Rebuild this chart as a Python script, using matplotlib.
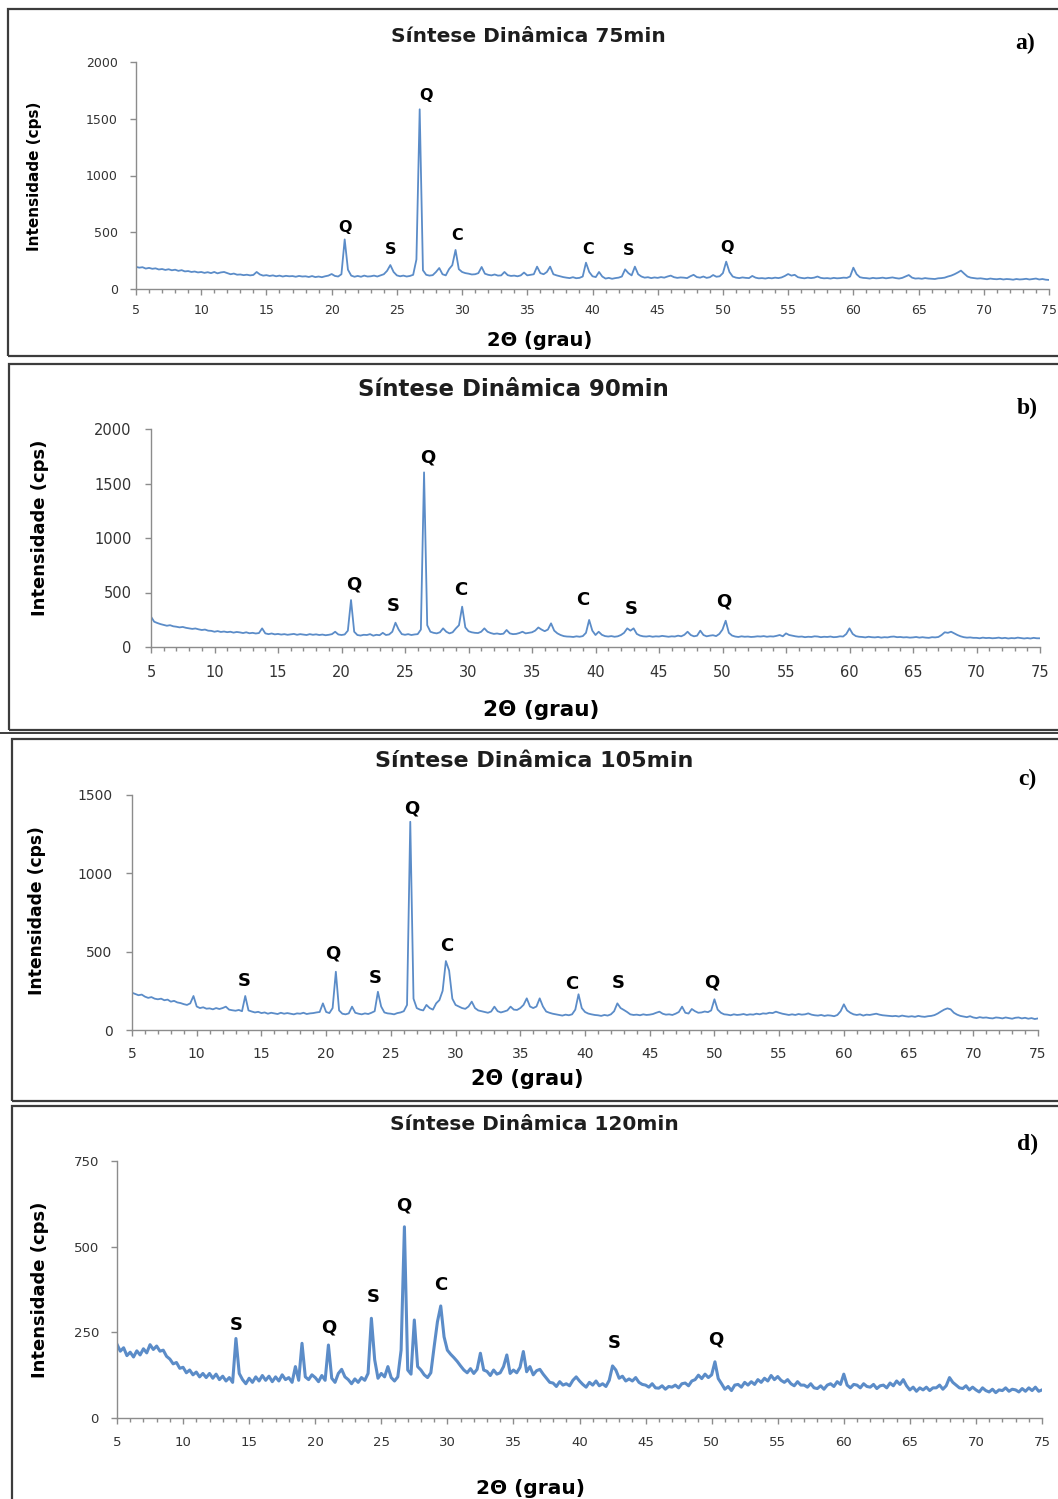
import numpy as np
import matplotlib
matplotlib.use('Agg')
import matplotlib.pyplot as plt
from matplotlib.patches import Rectangle
from matplotlib.lines import Line2D
from matplotlib.ticker import MultipleLocator

# ---------------- data ----------------
two_theta = np.linspace(5, 75, 281)   # 0.25 degree step

int_75 = [
    195, 188, 192, 180,   # 5
    186, 178, 182, 172,
    176, 168, 174, 165,
    170, 160, 166, 155,
    158, 150, 154, 146,
    150, 142, 148, 140,   # 10
    150, 138, 146, 150,
    140, 130, 136, 126,
    128, 122, 126, 120,
    124, 150, 128, 118,
    122, 115, 120, 112,   # 15
    118, 110, 116, 112,
    114, 108, 115, 110,
    112, 106, 114, 105,
    110, 104, 112, 118,
    132, 115, 110, 130,   # 20
    437, 170, 118, 108,
    115, 108, 118, 110,
    112, 118, 110, 120,
    130, 160, 211, 150,
    120, 112, 118, 110,   # 25
    115, 125, 260, 1583,
    165, 125, 118, 122,
    150, 185, 130, 120,
    175, 210, 344, 175,
    150, 140, 135, 128,   # 30
    130, 140, 194, 135,
    125, 120, 128, 118,
    120, 150, 122, 115,
    118, 112, 120, 145,
    120, 125, 130, 197,   # 35
    140, 130, 150, 197,
    130, 120, 112, 105,
    100, 96, 104, 95,
    98, 110, 232, 150,
    112, 105, 150, 110,   # 40
    92, 98, 90, 96,
    100, 110, 173, 140,
    120, 197, 130, 110,
    100, 104, 96, 102,
    98, 105, 100, 110,    # 45
    118, 104, 98, 102,
    100, 96, 112, 125,
    105, 100, 110, 98,
    104, 123, 108, 112,
    140, 241, 150, 110,   # 50
    100, 96, 102, 98,
    96, 115, 100, 94,
    96, 92, 98, 94,
    100, 96, 102, 115,
    132, 118, 125, 104,   # 55
    98, 94, 100, 96,
    100, 110, 98, 94,
    96, 92, 98, 94,
    96, 100, 98, 110,
    188, 130, 104, 98,    # 60
    96, 92, 98, 94,
    96, 100, 94, 98,
    102, 96, 92, 98,
    110, 123, 100, 92,
    94, 90, 96, 92,       # 65
    90, 88, 94, 96,
    100, 110, 118, 130,
    145, 162, 135, 110,
    100, 96, 92, 94,
    90, 86, 92, 88,       # 70
    86, 90, 84, 88,
    86, 82, 88, 84,
    86, 90, 84, 88,
    92, 84, 88, 82,
    80,                   # 75
]

int_90 = [
    278, 232, 220, 210,   # 5
    202, 195, 200, 190,
    186, 180, 184, 176,
    171, 166, 170, 162,
    156, 160, 150, 148,
    140, 146, 138, 142,   # 10
    136, 140, 132, 138,
    134, 128, 135, 126,
    130, 124, 128, 171,
    125, 118, 124, 116,
    120, 114, 118, 112,   # 15
    116, 120, 112, 118,
    114, 110, 118, 112,
    116, 110, 114, 108,
    112, 118, 140, 115,
    110, 115, 150, 431,   # 20
    140, 110, 105, 112,
    110, 118, 104, 112,
    108, 130, 110, 115,
    140, 223, 160, 118,
    112, 118, 110, 115,   # 25
    118, 160, 1602, 200,
    140, 130, 125, 135,
    171, 140, 125, 135,
    170, 200, 370, 180,
    145, 135, 130, 128,   # 30
    140, 171, 140, 128,
    120, 124, 118, 122,
    156, 125, 118, 120,
    128, 140, 125, 130,
    135, 150, 179, 160,   # 35
    145, 160, 217, 150,
    125, 110, 100, 96,
    95, 92, 98, 94,
    100, 130, 248, 150,
    110, 140, 112, 100,   # 40
    96, 100, 94, 98,
    110, 130, 171, 150,
    171, 120, 105, 98,
    96, 100, 94, 98,
    96, 102, 98, 94,      # 45
    98, 96, 104, 98,
    112, 140, 110, 98,
    104, 150, 110, 98,
    104, 108, 100, 120,
    160, 241, 130, 105,   # 50
    96, 92, 98, 94,
    96, 92, 94, 98,
    96, 100, 94, 98,
    96, 102, 110, 98,
    125, 110, 104, 98,    # 55
    94, 96, 90, 94,
    92, 98, 96, 90,
    94, 92, 96, 90,
    92, 98, 96, 120,
    171, 120, 100, 94,    # 60
    92, 88, 94, 90,
    88, 92, 86, 90,
    88, 94, 96, 90,
    92, 88, 90, 86,
    88, 92, 86, 90,       # 65
    86, 84, 90, 88,
    92, 110, 135, 130,
    140, 125, 110, 98,
    90, 86, 88, 84,
    84, 80, 86, 82,       # 70
    84, 80, 82, 86,
    80, 84, 78, 82,
    80, 86, 82, 78,
    82, 78, 84, 80,
    80,                   # 75
]

int_105 = [
    238, 230, 222, 226,   # 5
    213, 205, 210, 200,
    196, 200, 190, 194,
    181, 186, 176, 172,
    165, 160, 170, 217,
    150, 140, 145, 136,   # 10
    138, 132, 140, 134,
    140, 149, 130, 126,
    123, 128, 120, 217,
    125, 118, 112, 116,
    108, 112, 104, 110,   # 15
    106, 102, 110, 104,
    108, 104, 100, 106,
    104, 110, 102, 106,
    108, 112, 115, 170,
    115, 108, 140, 372,   # 20
    125, 104, 100, 106,
    149, 110, 104, 100,
    106, 102, 110, 120,
    244, 150, 112, 106,
    104, 100, 108, 112,   # 25
    120, 160, 1329, 200,
    140, 130, 125, 160,
    140, 130, 170, 191,
    250, 440, 380, 200,
    160, 150, 140, 135,   # 30
    150, 181, 140, 125,
    120, 115, 110, 118,
    149, 120, 112, 118,
    125, 149, 130, 128,
    140, 160, 202, 150,   # 35
    140, 150, 202, 150,
    118, 110, 104, 100,
    96, 92, 98, 94,
    100, 130, 228, 140,
    115, 105, 100, 96,    # 40
    94, 90, 96, 92,
    100, 120, 170, 140,
    128, 115, 100, 96,
    98, 94, 100, 96,
    98, 102, 110, 117,    # 45
    104, 98, 100, 96,
    104, 115, 149, 110,
    105, 134, 120, 110,
    112, 118, 114, 125,
    196, 130, 110, 100,   # 50
    98, 94, 100, 96,
    98, 102, 96, 100,
    98, 104, 100, 106,
    104, 110, 108, 117,
    110, 104, 100, 96,    # 55
    100, 96, 102, 98,
    100, 106, 98, 94,
    92, 96, 90, 94,
    92, 88, 96, 120,
    164, 125, 110, 100,   # 60
    96, 100, 92, 98,
    96, 100, 104, 98,
    94, 92, 90, 88,
    90, 86, 92, 88,
    85, 88, 84, 90,       # 65
    86, 84, 88, 90,
    95, 105, 118, 130,
    138, 132, 110, 98,
    90, 86, 82, 88,
    80, 76, 82, 78,       # 70
    80, 76, 74, 80,
    78, 74, 80, 76,
    72, 78, 80, 74,
    78, 72, 76, 70,
    74,                   # 75
]

int_120 = [
    215, 195, 205, 182,   # 5
    192, 178, 196, 184,
    202, 190, 214, 200,
    210, 195, 198, 180,
    172, 158, 162, 145,
    148, 132, 140, 126,   # 10
    134, 120, 130, 118,
    130, 116, 128, 112,
    122, 108, 118, 104,
    232, 130, 112, 100,
    116, 104, 120, 108,   # 15
    124, 110, 122, 106,
    120, 108, 126, 112,
    118, 104, 150, 110,
    218, 120, 112, 126,
    118, 106, 124, 110,   # 20
    213, 116, 104, 130,
    142, 120, 112, 100,
    114, 104, 118, 110,
    130, 291, 170, 116,
    130, 120, 150, 118,   # 25
    108, 120, 198, 558,
    140, 128, 286, 150,
    140, 126, 118, 132,
    208, 281, 327, 237,
    198, 186, 176, 165,   # 30
    152, 140, 132, 144,
    130, 142, 189, 140,
    136, 124, 140, 128,
    132, 150, 184, 130,
    140, 132, 148, 194,   # 35
    135, 150, 126, 138,
    142, 128, 116, 104,
    102, 92, 106, 96,
    100, 94, 110, 120,
    108, 98, 90, 104,     # 40
    96, 108, 94, 100,
    92, 110, 152, 140,
    116, 122, 108, 114,
    108, 118, 104, 98,
    96, 90, 100, 88,      # 45
    87, 94, 84, 92,
    90, 96, 88, 100,
    102, 94, 108, 112,
    125, 115, 128, 118,
    126, 164, 115, 100,   # 50
    84, 92, 80, 96,
    98, 90, 104, 96,
    106, 98, 112, 104,
    116, 108, 124, 112,
    121, 110, 104, 112,   # 55
    100, 94, 106, 96,
    96, 90, 100, 88,
    86, 94, 84, 96,
    100, 92, 106, 98,
    128, 96, 88, 98,      # 60
    96, 88, 100, 92,
    90, 98, 86, 94,
    96, 88, 102, 94,
    108, 98, 112, 94,
    82, 90, 78, 88,       # 65
    82, 90, 80, 88,
    88, 96, 84, 94,
    118, 104, 96, 88,
    86, 94, 82, 90,
    82, 76, 88, 80,       # 70
    76, 84, 74, 82,
    80, 88, 78, 84,
    82, 76, 86, 78,
    88, 80, 90, 78,
    82,                   # 75
]

titles = ["Síntese Dinâmica 75min", "Síntese Dinâmica 90min",
          "Síntese Dinâmica 105min", "Síntese Dinâmica 120min"]
panel_letters = ["a)", "b)", "c)", "d)"]
y_max = [2000, 2000, 1500, 750]
y_step = [500, 500, 500, 250]

phase_75 = ["Q", "S", "Q", "C", "C", "S", "Q"]
phase_pos_75 = [21.0, 24.5, 27.2, 29.6, 39.7, 42.8, 50.3]
phase_h_75 = [546, 352, 1709, 467, 352, 335, 370]

phase_90 = ["Q", "S", "Q", "C", "C", "S", "Q"]
phase_pos_90 = [21.0, 24.1, 26.8, 29.4, 39.0, 42.8, 50.1]
phase_h_90 = [569, 376, 1742, 523, 431, 348, 422]

phase_105 = ["S", "Q", "S", "Q", "C", "C", "S", "Q"]
phase_pos_105 = [13.7, 20.5, 23.8, 26.6, 29.3, 39.0, 42.6, 49.8]
phase_h_105 = [313, 491, 332, 1416, 536, 293, 300, 306]

phase_120 = ["S", "Q", "S", "Q", "C", "S", "Q"]
phase_pos_120 = [14.0, 21.0, 24.4, 26.7, 29.5, 42.6, 50.3]
phase_h_120 = [271, 263, 353, 619, 388, 219, 228]

series = [int_75, int_90, int_105, int_120]
phases = [(phase_75, phase_pos_75, phase_h_75),
          (phase_90, phase_pos_90, phase_h_90),
          (phase_105, phase_pos_105, phase_h_105),
          (phase_120, phase_pos_120, phase_h_120)]

# ---------------- layout (pixels) ----------------
W, H = 1058, 1499
fig = plt.figure(figsize=(W / 100, H / 100), dpi=100)
fig.patch.set_facecolor('white')


def fx(px):
    return px / W


def fy(py):
    return 1 - py / H


layout = [
    dict(ax=(136, 62, 1049, 289), title=(528, 37, 14.5), letter=(1025, 43),
         ylab=(35, 176, 11.0), xlab=(540, 341, 14.0), tick=9.0, box=(8, 9, 356),
         lw=1.3, pad_x=7, pad_y=9, ann=11.5),
    dict(ax=(151, 429, 1040, 647), title=(513, 389, 16.5), letter=(1027, 408),
         ylab=(40, 528, 13.0), xlab=(541, 710, 15.5), tick=10.5, box=(9, 364, 730),
         lw=1.3, pad_x=9, pad_y=10, ann=13),
    dict(ax=(132, 795, 1038, 1030), title=(534, 761, 16.0), letter=(1027, 779),
         ylab=(37, 911, 12.3), xlab=(527, 1079, 15.0), tick=10.0, box=(12, 739, 1101),
         lw=1.3, pad_x=8, pad_y=10, ann=13),
    dict(ax=(117, 1161, 1042, 1418), title=(534, 1125, 14.5), letter=(1028, 1144),
         ylab=(40, 1290, 13.0), xlab=(531, 1488, 14.5), tick=9.5, box=(12, 1106, 1530),
         lw=2.2, pad_x=9, pad_y=9, ann=13),
]

line_color = '#5b8cc8'
axis_color = '#8c8c8c'
box_color = '#3c3c3c'
text_color = '#1e1e1e'

for i, L in enumerate(layout):
    x0, y0, x1, y1 = L['ax']
    ax = fig.add_axes([fx(x0), fy(y1), (x1 - x0) / W, (y1 - y0) / H])
    ax.plot(two_theta, series[i], color=line_color, lw=L['lw'], solid_joinstyle='round')
    ax.set_xlim(5, 75)
    ax.set_ylim(0, y_max[i])
    ax.xaxis.set_major_locator(MultipleLocator(5))
    ax.xaxis.set_minor_locator(MultipleLocator(1))
    ax.yaxis.set_major_locator(MultipleLocator(y_step[i]))
    for s in ['top', 'right']:
        ax.spines[s].set_visible(False)
    for s in ['left', 'bottom']:
        ax.spines[s].set_color(axis_color)
        ax.spines[s].set_linewidth(1.0)
    ax.tick_params(axis='x', which='major', direction='out', length=4, width=1,
                   color=axis_color, labelsize=L['tick'], labelcolor='#333333', pad=L['pad_x'])
    ax.tick_params(axis='x', which='minor', direction='out', length=3, width=1, color=axis_color)
    ax.tick_params(axis='y', which='major', direction='out', length=4, width=1,
                   color=axis_color, labelsize=L['tick'], labelcolor='#333333', pad=L['pad_y'])
    ax.set_facecolor('none')

    letters, pos, hts = phases[i]
    for lt, px, h in zip(letters, pos, hts):
        ax.text(px, h, lt, ha='center', va='center', fontsize=L['ann'],
                fontweight='bold', color='black', clip_on=False)

    tx, ty, ts = L['title']
    fig.text(fx(tx), fy(ty), titles[i], ha='center', va='center', fontsize=ts,
             fontweight='bold', color=text_color)
    lx, ly = L['letter']
    fig.text(fx(lx), fy(ly), panel_letters[i], ha='center', va='center', fontsize=17,
             fontweight='bold', family='Liberation Serif', color='black')
    yx, yy, ys = L['ylab']
    fig.text(fx(yx), fy(yy), 'Intensidade (cps)', ha='center', va='center', rotation=90,
             fontsize=ys, fontweight='bold', color='black')
    xx, xy, xs = L['xlab']
    fig.text(fx(xx), fy(xy), '2Θ (grau)', ha='center', va='center', fontsize=xs,
             fontweight='bold', color='black')

    bx, btop, bbot = L['box']
    rect = Rectangle((fx(bx), fy(bbot)), (1070 - bx) / W, (bbot - btop) / H,
                     transform=fig.transFigure, fill=False, edgecolor=box_color,
                     lw=1.6, clip_on=False)
    fig.add_artist(rect)

fig.add_artist(Line2D([0, 1], [fy(733), fy(733)], transform=fig.transFigure,
                      color=box_color, lw=1.4))

fig.savefig('out.png', dpi=100, facecolor='white')
